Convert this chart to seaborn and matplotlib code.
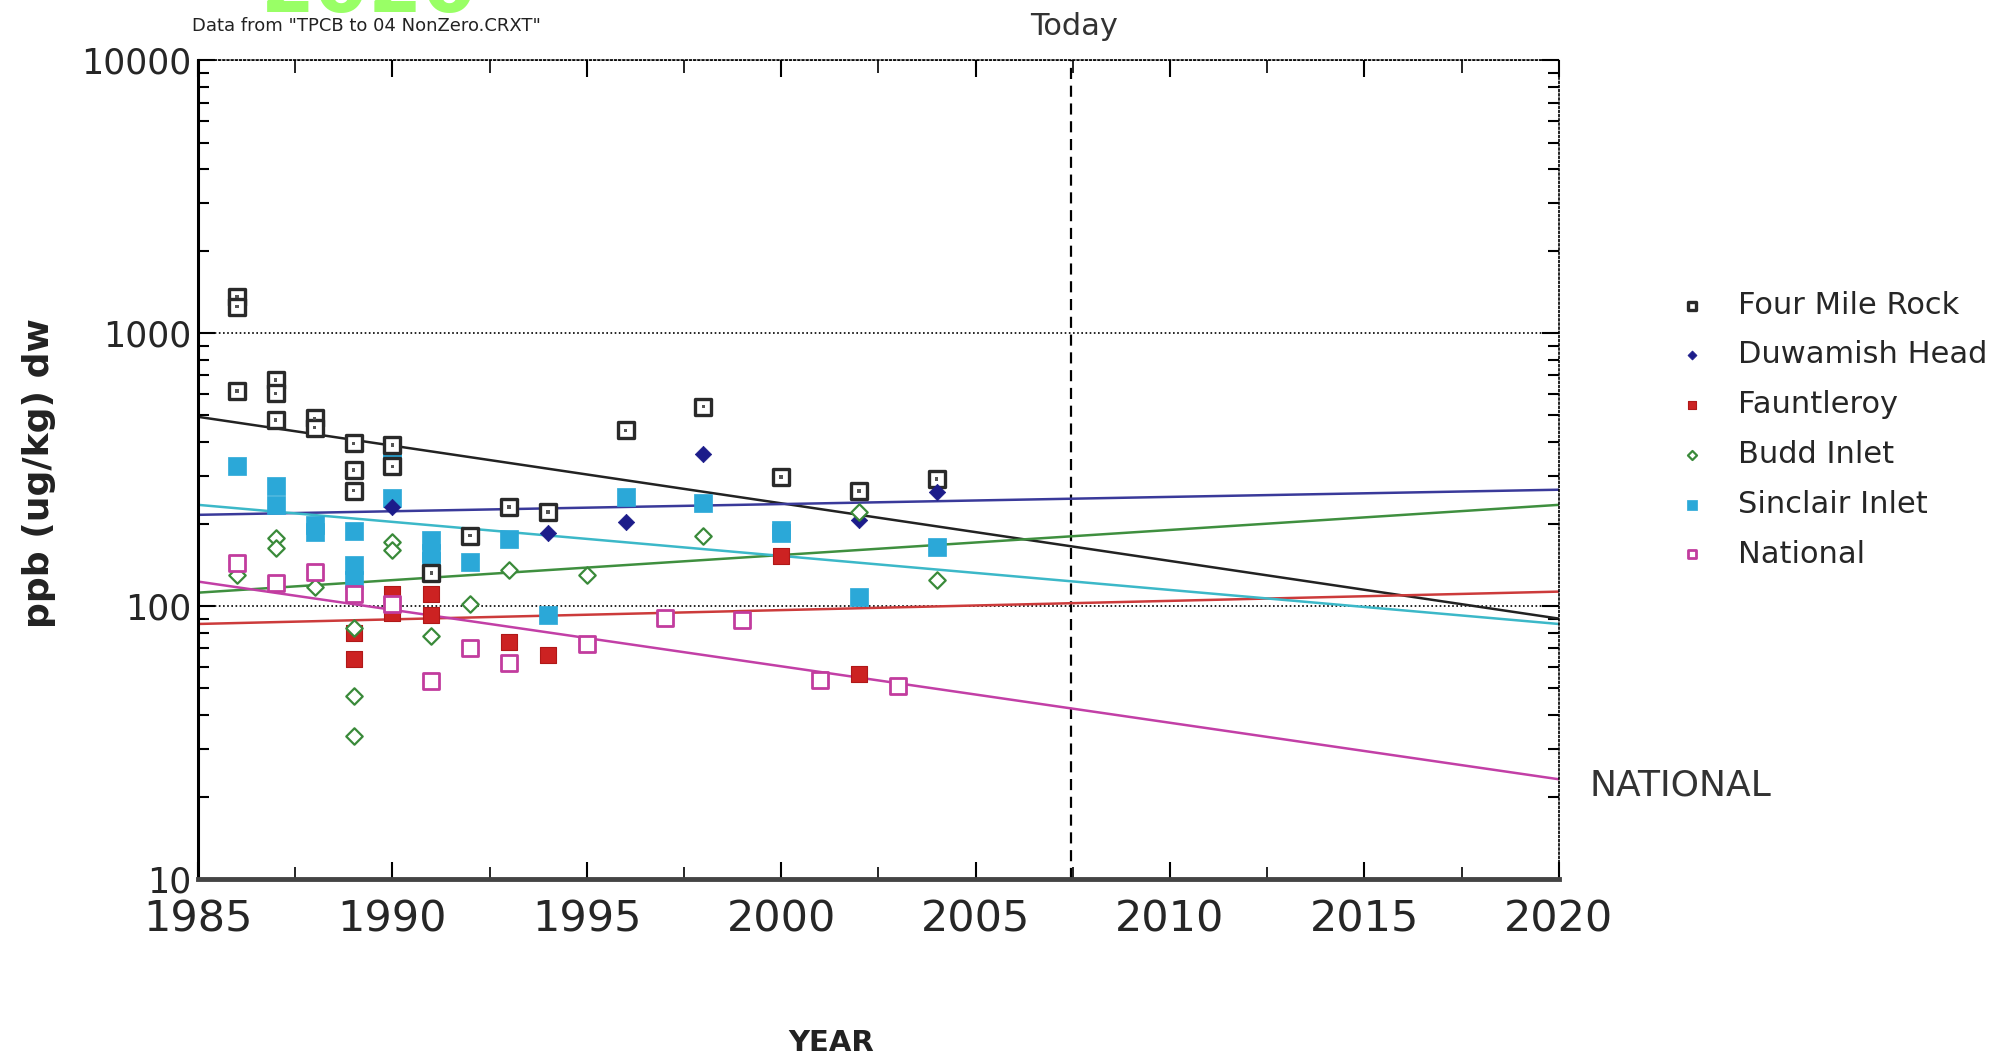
import matplotlib
matplotlib.use("Agg")
import numpy as np
import pandas as pd
import matplotlib.pyplot as plt
import seaborn as sns
from matplotlib.ticker import FixedLocator, LogLocator, NullFormatter

# ---- data ----
four_mile_years = [1986, 1986, 1986, 1987, 1987, 1987, 1988, 1988, 1989, 1989, 1989,
                   1990, 1990, 1991, 1992, 1993, 1994, 1996, 1998, 2000, 2002, 2004]
four_mile_vals = [1360, 1250, 615, 673, 602, 481, 487, 451, 395, 315, 265,
                  389, 325, 132, 181, 231, 221, 441, 538, 297, 264, 292]

duwamish_years = [1990, 1994, 1996, 1998, 2002, 2004]
duwamish_vals = [231, 185, 204, 360, 207, 263]

fauntleroy_years = [1989, 1989, 1990, 1990, 1991, 1991, 1993, 1994, 2000, 2002]
fauntleroy_vals = [79.6, 64, 111, 94.3, 111, 92.9, 73.6, 66.2, 152, 56.3]

budd_years = [1986, 1987, 1987, 1988, 1989, 1989, 1989, 1990, 1990, 1991,
              1992, 1993, 1995, 1998, 2002, 2004]
budd_vals = [130, 178, 163, 117, 83, 46.7, 33.5, 172, 160, 78,
             102, 136, 130, 181, 222, 125]

sinclair_years = [1986, 1987, 1987, 1988, 1988, 1989, 1989, 1989, 1990, 1990, 1990,
                  1991, 1991, 1991, 1992, 1993, 1994, 1996, 1998, 2000, 2000, 2002, 2004]
sinclair_vals = [326, 276, 235, 198, 187, 188, 142, 125, 348, 334, 250,
                 174, 156, 146, 145, 176, 93, 252, 238, 190, 185, 108, 165]

national_years = [1986, 1987, 1988, 1989, 1990, 1991, 1992, 1993, 1995, 1997, 1999, 2001, 2003]
national_vals = [144, 122, 133, 111, 102, 53.2, 70.2, 62.1, 72.6, 90.2, 88.9, 53.7, 51.1]

# trend lines (start / end values)
trend_years = [1985, 2020]
four_mile_trend = [494, 90]
duwamish_trend = [216, 267]
fauntleroy_trend = [86, 113]
budd_trend = [112, 235]
sinclair_trend = [235, 86]
national_trend = [123, 23.2]

today_year = 2007.45
x_ticks = [1985, 1990, 1995, 2000, 2005, 2010, 2015, 2020]
y_ticks = [10, 100, 1000, 10000]

# ---- style ----
sns.set_theme(style="white")
plt.rcParams['font.family'] = ['DejaVu Sans']

fig = plt.figure(figsize=(20.04, 10.59), dpi=100)
ax = fig.add_axes([0.0988, 0.170, 0.679, 0.773])

# trend lines first, under the points
trends = [
    (four_mile_trend, "#222222"),
    (duwamish_trend, "#3a3a9a"),
    (fauntleroy_trend, "#cc3b3b"),
    (budd_trend, "#3f8f3f"),
    (sinclair_trend, "#3cb8c8"),
    (national_trend, "#c23fa6"),
]
for vals, col in trends:
    sns.lineplot(x=trend_years, y=vals, color=col, linewidth=1.8, ax=ax, zorder=2)

# scatter series
sns.scatterplot(x=four_mile_years, y=four_mile_vals, marker="s", s=120, color="white",
                edgecolor="#2a2a2a", linewidth=2.4, ax=ax, zorder=4, label="Four Mile Rock")
sns.scatterplot(x=four_mile_years, y=four_mile_vals, marker="s", s=6, color="#555555",
                edgecolor="none", ax=ax, zorder=5)
sns.scatterplot(x=duwamish_years, y=duwamish_vals, marker="D", s=70, color="#1c1c8a",
                edgecolor="#1c1c8a", linewidth=0.5, ax=ax, zorder=4, label="Duwamish Head")
sns.scatterplot(x=fauntleroy_years, y=fauntleroy_vals, marker="s", s=120, color="#cc2222",
                edgecolor="#b01818", linewidth=0.8, ax=ax, zorder=4, label="Fauntleroy")
sns.scatterplot(x=budd_years, y=budd_vals, marker="D", s=70, color="white",
                edgecolor="#3a8a3a", linewidth=1.6, ax=ax, zorder=4, label="Budd Inlet")
sns.scatterplot(x=sinclair_years, y=sinclair_vals, marker="s", s=150, color="#2ba8d8",
                edgecolor="#2ba8d8", linewidth=0.5, ax=ax, zorder=3, label="Sinclair Inlet")
sns.scatterplot(x=national_years, y=national_vals, marker="s", s=120, color="white",
                edgecolor="#c23c9e", linewidth=2.0, ax=ax, zorder=4, label="National")

# "today" line
ax.axvline(today_year, color="black", linestyle=(0, (5, 3)), linewidth=1.6, zorder=1)

ax.set_yscale("log")
ax.set_xlim(1985, 2020)
ax.set_ylim(10, 10000)

ax.xaxis.set_major_locator(FixedLocator(x_ticks))
ax.xaxis.set_minor_locator(FixedLocator(np.arange(1987.5, 2020, 5)))
ax.set_xticklabels([str(t) for t in x_ticks], fontsize=31)
ax.yaxis.set_major_locator(FixedLocator(y_ticks))
ax.yaxis.set_minor_locator(LogLocator(base=10, subs=np.arange(2, 10)))
ax.yaxis.set_minor_formatter(NullFormatter())
ax.set_yticklabels([str(t) for t in y_ticks], fontsize=25)

ax.tick_params(axis="x", which="major", direction="in", length=12, width=1.5,
               top=True, bottom=True, pad=14, color="black")
ax.tick_params(axis="x", which="minor", direction="in", length=9, width=1.2,
               top=True, bottom=True, color="black")
ax.tick_params(axis="y", which="major", direction="in", length=12, width=1.5,
               left=True, right=True, pad=5, color="black")
ax.tick_params(axis="y", which="minor", direction="in", length=8, width=1.5,
               left=True, right=True, color="black")

ax.grid(axis="y", which="major", linestyle=(0, (1, 1.5)), color="black", linewidth=1.2)
ax.grid(axis="x", visible=False)

ax.spines["left"].set_color("black")
ax.spines["left"].set_linewidth(2.2)
ax.spines["bottom"].set_color("#444444")
ax.spines["bottom"].set_linewidth(3.5)
for side in ["top", "right"]:
    ax.spines[side].set_color("black")
    ax.spines[side].set_linewidth(1.2)
    ax.spines[side].set_linestyle((0, (1, 1.5)))

ax.set_xlabel("")
ax.set_ylabel("")

# legend
leg = ax.legend(loc="upper left", bbox_to_anchor=(0.829, 0.740), bbox_transform=fig.transFigure,
                frameon=False, fontsize=22, markerscale=0.55, handlelength=1.0,
                handletextpad=1.0, labelspacing=0.68, borderpad=0)

# texts
fig.text(0.0195, 0.553, "ppb (ug/kg) dw", rotation=90, fontsize=26, fontweight="bold",
         ha="center", va="center", color="#222222")
fig.text(0.4147, 0.015, "YEAR", fontsize=21, fontweight="bold", ha="center", va="center",
         color="#222222")
fig.text(0.536, 0.975, "Today", fontsize=22, ha="center", va="center", color="#333333")
fig.text(0.793, 0.258, "NATIONAL", fontsize=26, ha="left", va="center", color="#333333")
fig.text(0.096, 0.975, "Data from \"TPCB to 04 NonZero.CRXT\"", fontsize=13,
         ha="left", va="center", color="#222222")
fig.text(0.184, 1.009, "2020", fontsize=56, fontweight="bold", ha="center", va="center",
         color="#99ff66")

fig.savefig("out.png", dpi=100)
plt.close(fig)
